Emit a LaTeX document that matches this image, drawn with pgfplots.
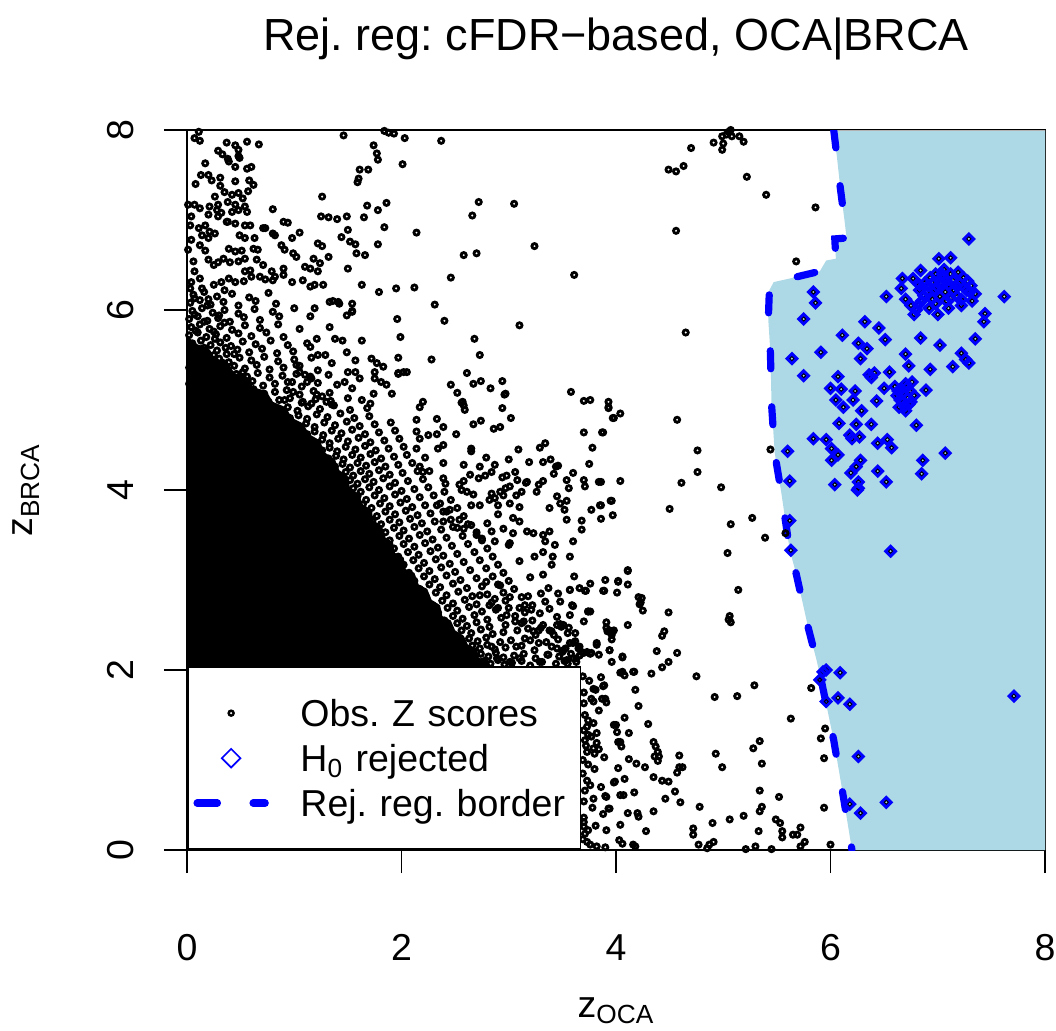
\documentclass[border=0pt]{standalone}
\usepackage{fontspec}
\setmainfont{Liberation Sans}
\usepackage{pgfplots}
\pgfplotsset{compat=1.18}
\definecolor{lb}{HTML}{ADD8E6}
\pgfdeclareplotmark{ring}{\pgfpathcircle{\pgfpointorigin}{2.05pt}\pgfpathcircle{\pgfpointorigin}{0.65pt}\pgfseteorule\pgfusepathqfill}
\pgfdeclareplotmark{lring}{\pgfpathcircle{\pgfpointorigin}{1.9pt}\pgfpathcircle{\pgfpointorigin}{0.7pt}\pgfseteorule\pgfusepathqfill}
\pgfdeclareplotmark{rdia}{\pgfpathmoveto{\pgfqpoint{0pt}{3.5pt}}\pgfpathlineto{\pgfqpoint{3.5pt}{0pt}}\pgfpathlineto{\pgfqpoint{0pt}{-3.5pt}}\pgfpathlineto{\pgfqpoint{-3.5pt}{0pt}}\pgfpathclose
\pgfpathmoveto{\pgfqpoint{0pt}{1.45pt}}\pgfpathlineto{\pgfqpoint{1.45pt}{0pt}}\pgfpathlineto{\pgfqpoint{0pt}{-1.45pt}}\pgfpathlineto{\pgfqpoint{-1.45pt}{0pt}}\pgfpathclose\pgfseteorule\pgfusepathqfill}
\pgfdeclareplotmark{ldia}{\pgfpathmoveto{\pgfqpoint{0pt}{5.25pt}}\pgfpathlineto{\pgfqpoint{5.25pt}{0pt}}\pgfpathlineto{\pgfqpoint{0pt}{-5.25pt}}\pgfpathlineto{\pgfqpoint{-5.25pt}{0pt}}\pgfpathclose
\pgfpathmoveto{\pgfqpoint{0pt}{4.05pt}}\pgfpathlineto{\pgfqpoint{4.05pt}{0pt}}\pgfpathlineto{\pgfqpoint{0pt}{-4.05pt}}\pgfpathlineto{\pgfqpoint{-4.05pt}{0pt}}\pgfpathclose\pgfseteorule\pgfusepathqfill}
\pgfplotsset{
  mylegmark/.style={legend image code/.code={\draw[##1] plot coordinates {(16.95pt,0pt)};}},
  myleglinee/.style={legend image code/.code={\draw[##1] (0pt,0pt) -- (33.9pt,0pt);}},
}
\frenchspacing
\begin{document}
\frenchspacing
\begin{tikzpicture}[font=\fontsize{18.75pt}{22.5pt}\selectfont]
\begin{axis}[
  at={(0pt,0pt)}, anchor=south west,
  x=53.625pt, y=45pt,
  xmin=0, xmax=8, ymin=0, ymax=8,
  axis line style={line width=0.9pt},
  every tick/.style={black, line width=0.9pt},
  tick align=outside,
  major tick length=11.5pt,
  xtick={0,2,4,6,8}, ytick={0,2,4,6,8},
  xtick pos=left, ytick pos=left,
  /pgf/number format/assume math mode=true,
  xticklabel style={anchor=base, yshift=-43.5pt},
  yticklabel style={xshift=-15pt, rotate=90, anchor=base},
  title={Rej. reg: cFDR−based, OCA|BRCA},
  every axis title/.style={at={(axis description cs:0.5,1)}, yshift=40pt, anchor=base, font=\fontsize{22.5pt}{27pt}\selectfont},
  xlabel={z\textsubscript{OCA}},
  ylabel={z\textsubscript{BRCA}},
  every axis x label/.style={at={(axis description cs:0.5,0)}, yshift=-83.5pt, anchor=base},
  every axis y label/.style={at={(axis description cs:0,0.5)}, xshift=-77pt, rotate=90, anchor=base},
  legend style={at={(axis description cs:0,0)}, anchor=south west, draw=black, line width=0.85pt, fill=white,
    inner xsep=2.8pt, inner ysep=11.75pt, row sep=0pt, column sep=15.8pt,
    nodes={inner sep=0pt, text height=17.75pt, text depth=4.75pt, text width=137.2pt, align=left}},
  legend cell align=left,
]
\addlegendimage{color=black, mark=lring, mylegmark}
\addlegendentry{Obs. Z scores}
\addlegendimage{color=blue, mark=ldia, mylegmark}
\addlegendentry{H\textsubscript{0} rejected}
\addlegendimage{blue, line width=3.8pt, dash pattern=on 10pt off 18pt, line cap=round, myleglinee}
\addlegendentry{Rej. reg. border}

% rejection region
\addplot[fill=lb, draw=none, forget plot] coordinates {
(6.03,8.00)(6.06,7.70)(6.09,7.37)(6.13,7.00)(6.15,6.80)(6.04,6.79)(6.05,6.57)(5.96,6.55)(5.90,6.43)(5.62,6.35)(5.47,6.31)(5.43,6.22)(5.42,5.89)(5.44,5.52)(5.45,4.96)(5.48,4.41)(5.54,3.98)(5.62,3.33)(5.68,3.07)(5.79,2.48)(5.87,2.11)(5.92,1.85)(6.03,1.22)(6.12,0.59)(6.20,0.00)(8,0)(8,8)};
\addplot[gray!60, line width=0.5pt, forget plot] coordinates {(6.03,8)(8,8)(8,0)};

% dense core of the point cloud
\addplot[fill=black, draw=none, forget plot] coordinates {
(0,0)(2.85,0)(2.85,2.02)(2.80,2.10)(2.72,2.14)(2.70,2.24)(2.62,2.28)(2.58,2.38)(2.50,2.44)(2.46,2.55)(2.38,2.60)(2.36,2.72)(2.28,2.78)(2.24,2.90)(2.16,2.95)(2.12,3.08)(2.04,3.12)(2.02,3.25)(1.94,3.30)(1.92,3.42)(1.84,3.48)(1.82,3.60)(1.74,3.66)(1.72,3.78)(1.64,3.84)(1.60,3.96)(1.52,4.02)(1.50,4.15)(1.42,4.22)(1.38,4.34)(1.28,4.42)(1.24,4.55)(1.14,4.62)(1.08,4.74)(0.98,4.80)(0.92,4.92)(0.80,4.98)(0.74,5.10)(0.62,5.14)(0.56,5.26)(0.44,5.30)(0.38,5.42)(0.26,5.46)(0.20,5.58)(0.08,5.62)(0,5.72)};

% observed z scores
\addplot[only marks, mark=ring, color=black, forget plot] coordinates {
(2.45,2.08)(2.52,2.11)(2.58,2.06)(2.63,2.09)(2.70,2.05)(2.77,2.10)(2.83,2.07)(2.90,2.11)(2.96,2.06)(3.03,2.08)(3.12,2.10)(3.20,2.05)(3.31,2.09)(3.44,2.07)(3.52,2.10)
(2.40,2.16)(2.48,2.19)(2.55,2.14)(2.61,2.17)(2.68,2.13)(2.74,2.18)(2.81,2.15)(2.88,2.19)(2.95,2.14)(3.05,2.16)(3.14,2.18)(3.25,2.13)(3.36,2.17)(3.47,2.15)(3.58,2.18)
(2.33,2.25)(2.41,2.28)(2.47,2.23)(2.54,2.26)(2.60,2.22)(2.66,2.27)(2.73,2.24)(2.80,2.28)(2.87,2.23)(2.97,2.25)(3.12,2.27)(3.24,2.22)(3.40,2.26)(3.53,2.24)
(2.28,2.33)(2.35,2.36)(2.42,2.31)(2.49,2.34)(2.56,2.30)(2.63,2.35)(2.71,2.32)(2.79,2.36)(2.92,2.31)(3.02,2.33)(3.15,2.35)(3.28,2.30)(3.46,2.34)(3.62,2.32)
(2.20,2.42)(2.27,2.45)(2.34,2.40)(2.41,2.43)(2.48,2.39)(2.56,2.44)(2.65,2.41)(2.74,2.45)(2.85,2.40)(2.95,2.42)(3.08,2.44)(3.25,2.39)(3.40,2.43)(3.55,2.41)
(2.15,2.50)(2.22,2.53)(2.29,2.48)(2.36,2.51)(2.44,2.47)(2.52,2.52)(2.61,2.49)(2.70,2.53)(2.82,2.48)(2.97,2.50)(3.12,2.52)(3.30,2.47)(3.48,2.51)
(2.10,2.58)(2.17,2.61)(2.24,2.56)(2.32,2.59)(2.40,2.55)(2.48,2.60)(2.57,2.57)(2.68,2.61)(2.80,2.56)(2.93,2.58)(3.06,2.60)(3.22,2.55)(3.45,2.59)
(2.05,2.67)(2.12,2.70)(2.19,2.65)(2.26,2.68)(2.34,2.64)(2.43,2.69)(2.52,2.66)(2.63,2.70)(2.75,2.65)(2.88,2.67)(3.00,2.69)(3.15,2.64)(3.38,2.68)
(1.99,2.75)(2.06,2.78)(2.13,2.73)(2.21,2.76)(2.29,2.72)(2.38,2.77)(2.48,2.74)(2.59,2.78)(2.70,2.73)(2.84,2.75)(2.97,2.77)(3.22,2.72)
(1.93,2.84)(2.00,2.87)(2.07,2.82)(2.15,2.85)(2.23,2.81)(2.32,2.86)(2.42,2.83)(2.53,2.87)(2.66,2.82)(2.80,2.84)(2.95,2.86)(3.12,2.81)(3.30,2.85)
(1.87,2.93)(1.94,2.96)(2.01,2.91)(2.09,2.94)(2.17,2.90)(2.26,2.95)(2.36,2.92)(2.48,2.96)(2.61,2.91)(2.75,2.93)(2.90,2.95)(3.05,2.90)
(1.82,3.02)(1.89,3.05)(1.96,3.00)(2.04,3.03)(2.12,2.99)(2.21,3.04)(2.31,3.01)(2.42,3.05)(2.55,3.00)(2.70,3.02)(2.85,3.04)(3.00,2.99)(3.20,3.03)
(1.77,3.11)(1.84,3.14)(1.91,3.09)(1.99,3.12)(2.07,3.08)(2.16,3.13)(2.26,3.10)(2.37,3.14)(2.50,3.09)(2.64,3.11)(2.79,3.13)(2.95,3.08)
(1.72,3.20)(1.79,3.23)(1.86,3.18)(1.94,3.21)(2.02,3.17)(2.11,3.22)(2.21,3.19)(2.32,3.23)(2.45,3.18)(2.58,3.20)(2.73,3.22)(2.90,3.17)(3.10,3.21)
(1.68,3.29)(1.75,3.32)(1.82,3.27)(1.89,3.30)(1.97,3.26)(2.06,3.31)(2.16,3.28)(2.27,3.32)(2.39,3.27)(2.52,3.29)(2.68,3.31)(2.85,3.26)
(1.64,3.38)(1.71,3.41)(1.78,3.36)(1.85,3.39)(1.93,3.35)(2.02,3.40)(2.12,3.37)(2.22,3.41)(2.34,3.36)(2.47,3.38)(2.62,3.40)(2.80,3.35)(3.00,3.39)
(1.60,3.47)(1.67,3.50)(1.74,3.45)(1.81,3.48)(1.89,3.44)(1.98,3.49)(2.07,3.46)(2.17,3.50)(2.29,3.45)(2.42,3.47)(2.57,3.49)(2.75,3.44)
(1.56,3.56)(1.63,3.59)(1.70,3.54)(1.77,3.57)(1.85,3.53)(1.93,3.58)(2.02,3.55)(2.12,3.59)(2.24,3.54)(2.37,3.56)(2.52,3.58)(2.70,3.53)(2.95,3.57)
(1.52,3.65)(1.59,3.68)(1.66,3.63)(1.73,3.66)(1.81,3.62)(1.89,3.67)(1.98,3.64)(2.08,3.68)(2.19,3.63)(2.31,3.65)(2.46,3.67)(2.62,3.62)
(1.48,3.74)(1.55,3.77)(1.62,3.72)(1.69,3.75)(1.77,3.71)(1.85,3.76)(1.94,3.73)(2.04,3.77)(2.15,3.72)(2.27,3.74)(2.42,3.76)(2.58,3.71)
(1.43,3.83)(1.50,3.86)(1.57,3.81)(1.64,3.84)(1.72,3.80)(1.80,3.85)(1.89,3.82)(1.99,3.86)(2.10,3.81)(2.22,3.83)(2.36,3.85)(2.52,3.80)
(1.38,3.92)(1.45,3.95)(1.52,3.90)(1.59,3.93)(1.67,3.89)(1.75,3.94)(1.84,3.91)(1.94,3.95)(2.05,3.90)(2.17,3.92)(2.30,3.94)(2.46,3.89)
(1.34,4.01)(1.41,4.04)(1.48,3.99)(1.55,4.02)(1.62,3.98)(1.70,4.03)(1.79,4.00)(1.89,4.04)(2.00,3.99)(2.12,4.01)(2.25,4.03)(2.40,3.98)
(1.31,4.10)(1.38,4.13)(1.45,4.08)(1.52,4.11)(1.59,4.07)(1.66,4.12)(1.74,4.09)(1.83,4.13)(1.94,4.08)(2.06,4.10)(2.20,4.12)
(1.27,4.19)(1.34,4.22)(1.41,4.17)(1.48,4.20)(1.55,4.16)(1.62,4.21)(1.70,4.18)(1.79,4.22)(1.89,4.17)(2.01,4.19)(2.15,4.21)
(1.24,4.28)(1.31,4.31)(1.38,4.26)(1.45,4.29)(1.52,4.25)(1.59,4.30)(1.67,4.27)(1.75,4.31)(1.85,4.26)(1.97,4.28)(2.10,4.30)
(1.18,4.37)(1.25,4.40)(1.32,4.35)(1.39,4.38)(1.46,4.34)(1.54,4.39)(1.62,4.36)(1.71,4.40)(1.81,4.35)(1.93,4.37)(2.05,4.39)
(1.12,4.46)(1.19,4.49)(1.26,4.44)(1.33,4.47)(1.40,4.43)(1.48,4.48)(1.57,4.45)(1.66,4.49)(1.76,4.44)(1.88,4.46)(2.02,4.48)
(1.05,4.55)(1.12,4.58)(1.19,4.53)(1.26,4.56)(1.33,4.52)(1.41,4.57)(1.50,4.54)(1.60,4.58)(1.71,4.53)(1.84,4.55)(1.98,4.57)
(0.98,4.64)(1.05,4.67)(1.12,4.62)(1.19,4.65)(1.27,4.61)(1.35,4.66)(1.44,4.63)(1.54,4.67)(1.66,4.62)(1.79,4.64)(1.94,4.66)
(0.90,4.73)(0.97,4.76)(1.04,4.71)(1.11,4.74)(1.19,4.70)(1.28,4.75)(1.38,4.72)(1.49,4.76)(1.61,4.71)(1.75,4.73)(1.90,4.75)
(0.82,4.82)(0.89,4.85)(0.96,4.80)(1.04,4.83)(1.12,4.79)(1.21,4.84)(1.31,4.81)(1.43,4.85)(1.56,4.80)(1.70,4.82)
(0.70,4.91)(0.78,4.94)(0.86,4.89)(0.94,4.92)(1.03,4.88)(1.13,4.93)(1.24,4.90)(1.37,4.94)(1.52,4.89)(1.68,4.91)
(0.05,5.00)(0.13,5.03)(0.22,4.98)(0.31,5.01)(0.40,4.97)(0.49,5.02)(0.58,4.99)(0.67,5.03)(0.76,4.98)(0.86,5.00)(0.96,5.02)(1.07,4.97)(1.20,5.01)(1.34,4.99)(1.50,5.02)
(0.03,5.09)(0.11,5.12)(0.19,5.07)(0.27,5.10)(0.35,5.06)(0.44,5.11)(0.53,5.08)(0.62,5.12)(0.72,5.07)(0.82,5.09)(0.93,5.11)(1.05,5.06)(1.18,5.10)(1.33,5.08)
(0.02,5.18)(0.09,5.21)(0.17,5.16)(0.25,5.19)(0.33,5.15)(0.42,5.20)(0.51,5.17)(0.61,5.21)(0.71,5.16)(0.82,5.18)(0.94,5.20)(1.07,5.15)(1.22,5.19)(1.40,5.17)
(0.04,5.27)(0.12,5.30)(0.20,5.25)(0.28,5.28)(0.37,5.24)(0.46,5.29)(0.56,5.26)(0.66,5.30)(0.77,5.25)(0.89,5.27)(1.02,5.29)(1.16,5.24)(1.32,5.28)
(0.02,5.36)(0.10,5.39)(0.18,5.34)(0.26,5.37)(0.35,5.33)(0.44,5.38)(0.54,5.35)(0.65,5.39)(0.77,5.34)(0.90,5.36)(1.05,5.38)(1.22,5.33)
(0.05,5.45)(0.13,5.48)(0.21,5.43)(0.30,5.46)(0.39,5.42)(0.49,5.47)(0.60,5.44)(0.72,5.48)(0.85,5.43)(1.00,5.45)(1.16,5.47)
(0.03,5.54)(0.11,5.57)(0.19,5.52)(0.28,5.55)(0.37,5.51)(0.47,5.56)(0.58,5.53)(0.70,5.57)(0.84,5.52)(0.99,5.54)
(0.05,5.63)(0.13,5.66)(0.22,5.61)(0.31,5.64)(0.41,5.60)(0.52,5.65)(0.64,5.62)(0.78,5.66)(0.94,5.61)(1.12,5.63)
(0.02,5.72)(0.10,5.75)(0.18,5.70)(0.27,5.73)(0.37,5.69)(0.48,5.74)(0.60,5.71)(0.74,5.75)(0.90,5.70)
(0.04,5.81)(0.12,5.84)(0.21,5.79)(0.31,5.82)(0.42,5.78)(0.54,5.83)(0.68,5.80)(0.85,5.84)(1.05,5.79)
(0.02,5.90)(0.10,5.93)(0.19,5.88)(0.29,5.91)(0.40,5.87)(0.53,5.92)(0.68,5.89)(0.86,5.93)
(0.05,5.99)(0.14,6.02)(0.24,5.97)(0.35,6.00)(0.48,5.96)(0.63,6.01)(0.80,5.98)(1.00,6.02)
(0.03,6.08)(0.12,6.11)(0.22,6.06)(0.34,6.09)(0.48,6.05)(0.64,6.10)(0.83,6.07)
(0.06,6.17)(0.16,6.20)(0.28,6.15)(0.42,6.18)(0.58,6.14)(0.76,6.19)
(0.07,5.05)(0.16,5.14)(0.24,5.04)(0.36,5.14)(0.45,5.06)(0.08,5.23)(0.21,5.22)(0.31,5.32)(0.40,5.24)(0.52,5.31)(0.06,5.41)(0.16,5.40)(0.25,5.50)(0.34,5.41)(0.44,5.51)(0.07,5.59)(0.16,5.58)(0.26,5.68)(0.36,5.58)(0.08,5.77)(0.16,5.87)(0.25,5.76)(0.35,5.86)(0.07,5.95)(0.19,6.05)(0.30,5.94)(0.07,6.13)(0.20,6.12)(0.35,6.22)(0.03,6.24)
(0.11,7.98)(0.07,7.91)(0.12,7.88)(0.37,7.86)(0.45,7.83)(0.48,7.78)(0.56,7.87)(0.67,7.84)(0.29,7.77)(0.33,7.73)(0.38,7.68)(0.48,7.71)(0.49,7.69)(0.17,7.63)(0.39,7.65)(0.45,7.59)(0.56,7.57)(0.60,7.59)(0.13,7.50)(0.20,7.50)(0.23,7.44)(0.31,7.47)(0.45,7.43)(0.58,7.44)(0.62,7.39)(0.08,7.40)(0.31,7.38)(0.35,7.31)(0.42,7.28)(0.48,7.30)(0.57,7.32)(0.26,7.26)(0.29,7.17)(0.38,7.20)(0.45,7.17)(0.52,7.24)(0.54,7.15)(0.01,7.17)(0.07,7.17)(0.12,7.13)(0.21,7.15)(0.28,7.11)(0.32,7.08)(0.42,7.09)(0.48,7.11)(0.04,7.04)(0.20,7.06)(0.29,7.04)(0.38,6.98)(0.56,7.09)(0.80,7.12)(0.03,6.94)(0.11,6.91)(0.17,6.94)(0.21,6.87)(0.26,6.85)(0.37,6.98)(0.45,6.96)(0.54,6.94)(0.59,6.94)(0.73,6.91)(0.80,6.85)(0.90,6.98)(0.94,6.97)(0.14,6.83)(0.20,6.80)(0.04,6.78)(0.49,6.83)(0.54,6.80)(0.63,6.80)(0.71,6.91)(0.82,6.83)(0.98,6.80)(1.05,6.86)(0.01,6.67)(0.12,6.72)(0.17,6.66)(0.39,6.68)(0.45,6.65)(0.51,6.66)(0.62,6.68)(0.66,6.67)(0.88,6.72)(0.91,6.67)(1.22,6.74)(1.26,6.71)(0.99,6.63)(0.06,6.54)(0.20,6.56)(0.25,6.50)(0.29,6.53)(0.34,6.57)(0.40,6.53)(0.48,6.54)(0.54,6.57)(0.65,6.56)(0.71,6.50)(1.02,6.59)(1.18,6.57)(1.24,6.52)(1.32,6.59)(0.07,6.43)(0.12,6.35)(0.54,6.43)(0.59,6.44)(0.60,6.37)(0.79,6.43)(0.82,6.37)(0.90,6.46)(1.10,6.48)(1.15,6.46)(1.22,6.43)(1.50,6.46)(1.63,6.28)(1.79,6.20)(0.04,6.31)(0.14,6.24)(0.25,6.28)(0.32,6.31)(0.39,6.35)(0.45,6.31)(0.53,6.32)(0.68,6.37)(0.73,6.34)(0.80,6.33)(0.90,6.39)(0.98,6.31)(1.08,6.33)(1.15,6.26)(1.19,6.28)(1.27,6.28)(1.33,6.09)(1.41,6.09)(1.54,6.07)(1.54,5.98)(1.49,5.94)
(1.46,7.94)(1.74,7.83)(1.77,7.74)(1.78,7.67)(1.84,7.99)(1.88,7.97)(1.93,7.96)(2.03,7.91)(1.61,7.56)(1.60,7.46)(1.59,7.42)(1.69,7.56)(2.01,7.62)(1.26,7.26)(1.68,7.16)(1.78,7.11)(1.86,7.19)(1.65,7.03)(1.25,7.04)(1.32,7.03)(1.40,7.01)(1.49,7.04)(1.84,6.92)(1.50,6.89)(1.44,6.81)(1.52,6.76)(1.57,6.73)(1.58,6.63)(1.66,6.61)(1.78,6.73)(1.95,6.24)(1.96,5.90)(1.99,5.70)(1.97,5.47)(2.02,5.31)(1.97,5.29)(1.36,6.10)(1.42,6.07)(1.15,5.93)(1.19,6.02)(1.54,5.99)(1.33,5.81)(1.21,5.68)(1.38,5.68)(1.45,5.66)(1.63,5.66)(1.15,5.59)(1.22,5.50)(1.29,5.50)(1.35,5.41)(1.49,5.53)(1.57,5.44)(1.50,5.31)(1.57,5.31)(1.47,5.20)(1.54,5.13)(1.61,5.24)(1.72,5.46)(1.77,5.41)(1.83,5.37)(1.75,5.31)(1.75,5.24)(1.81,5.20)(1.86,5.17)(1.74,5.07)(1.91,5.07)(1.97,5.30)(2.05,5.31)(1.02,5.39)(1.05,5.31)(1.10,5.28)(1.15,5.26)(0.98,5.20)(1.12,5.20)(1.21,5.06)(1.26,5.04)(0.99,5.09)(0.91,5.00)(1.08,4.98)(1.16,4.96)(1.30,4.98)(1.35,4.95)(1.63,5.00)(1.71,4.96)
(2.37,7.88)(2.72,7.20)(3.05,7.18)(2.66,7.05)(2.14,6.86)(3.24,6.71)(2.58,6.61)(2.70,6.63)(2.46,6.36)(3.61,6.39)(2.12,6.25)(2.31,6.06)(2.40,5.88)(3.10,5.83)(2.68,5.68)(2.73,5.50)(2.28,5.45)(2.61,5.30)(2.46,5.17)(2.67,5.18)(2.74,5.21)(2.83,5.13)(2.94,5.21)(2.97,5.07)(2.52,5.08)(3.58,5.09)(3.70,4.99)(3.76,5.00)(3.93,4.98)(2.20,4.98)(2.57,4.98)
(5.05,7.98)(5.03,7.95)(5.07,8.00)(4.99,7.93)(5.08,7.93)(5.15,7.93)(5.19,7.87)(5.00,7.85)(4.99,7.78)(4.91,7.86)(4.70,7.80)(4.49,7.56)(4.56,7.54)(4.63,7.60)(5.22,7.48)(5.40,7.28)(5.86,7.14)(4.56,6.88)(5.68,6.54)(4.65,5.75)(3.93,4.92)(3.97,4.80)(4.04,4.85)(3.88,4.64)(4.57,4.78)(4.76,4.44)(5.44,4.45)(4.76,4.20)(4.04,4.10)(4.61,4.08)(4.98,4.03)(3.86,4.09)(3.95,3.88)(3.86,3.83)(3.97,3.72)(4.50,3.79)(5.27,3.69)
(3.86,3.68)(5.07,3.62)(5.39,3.47)(5.58,3.52)(5.04,3.30)(4.11,3.10)(3.90,3.00)(4.02,2.99)(4.11,2.95)(3.89,2.88)(4.01,2.86)(5.14,2.89)(4.24,2.80)(4.22,2.73)(4.25,2.66)(4.49,2.64)(5.06,2.60)(5.07,2.53)(5.05,2.56)(3.91,2.53)(4.11,2.50)(3.92,2.43)(3.97,2.43)(4.45,2.43)(4.43,2.38)(3.96,2.34)(3.94,2.22)(4.38,2.21)(4.57,2.19)(4.06,2.14)(4.49,2.09)(4.43,2.03)(3.96,2.09)(4.04,1.97)(4.08,1.94)(4.17,1.98)(4.33,1.96)(4.75,1.93)(5.82,1.80)(5.29,1.83)(4.92,1.70)(5.13,1.71)(3.89,1.83)(4.18,1.78)(4.21,1.60)(3.90,1.68)(3.91,1.64)(4.08,1.47)(4.30,1.40)(5.63,1.46)(4.00,1.39)(4.01,1.31)(4.12,1.30)(5.91,1.24)(5.95,1.35)(5.94,1.02)(4.02,1.20)(4.04,1.20)(4.05,1.15)(4.35,1.20)(4.37,1.15)(4.39,1.09)(4.36,1.04)(4.40,1.04)(4.39,0.99)(4.59,1.05)(4.93,1.07)(4.99,0.92)(5.28,1.13)(5.34,1.21)(5.36,0.96)(4.12,1.01)(4.19,0.96)(4.27,0.92)(4.02,0.91)(3.89,1.03)(4.59,0.92)(4.62,0.92)(4.57,0.86)(4.35,0.81)(4.43,0.77)(4.49,0.76)(4.08,0.79)(3.98,0.75)(4.55,0.65)(4.17,0.64)(3.91,0.59)(4.04,0.61)(4.07,0.61)(4.46,0.57)(4.60,0.53)(4.78,0.48)(5.34,0.66)(5.52,0.59)(5.36,0.48)(5.34,0.43)(3.94,0.46)(4.11,0.41)(4.20,0.41)(4.21,0.37)(4.35,0.43)(3.88,0.40)(4.04,0.28)(3.91,0.22)(4.28,0.21)(4.72,0.24)(4.72,0.17)(4.90,0.30)(5.06,0.34)(5.19,0.38)(5.33,0.21)(5.49,0.34)(5.53,0.30)(5.55,0.21)(5.55,0.14)(5.65,0.17)(5.69,0.17)(5.72,0.25)(5.76,0.09)(5.72,0.04)(6.00,0.06)(5.94,0.47)(4.03,0.11)(4.06,0.07)(4.16,0.06)(4.18,0.04)(3.90,0.03)(4.77,0.06)(4.85,0.02)(4.87,0.06)(4.91,0.09)(5.21,0.01)(5.30,0.04)(5.45,0.01)
(3.70,1.63)(3.77,1.68)(3.79,1.65)(3.87,1.68)(3.71,1.50)(3.74,1.44)(3.79,1.41)(3.73,1.37)(3.82,1.30)(3.74,1.28)(3.71,1.22)(3.82,1.19)(3.79,1.13)(3.73,1.09)(3.80,1.07)(3.69,1.00)(3.73,0.77)(3.70,0.54)(3.79,0.57)(3.70,0.31)(3.70,0.26)(3.71,0.18)(3.73,0.09)(3.76,0.06)(3.82,0.04)(3.93,0.46)(3.90,0.60)(3.98,1.39)(3.99,0.76)(4.16,1.98)(3.88,1.82)(3.79,1.79)(3.81,1.78)
(3.69,0.12)(3.74,0.22)(3.70,0.36)(3.78,0.47)(3.71,0.66)(3.76,0.72)(3.69,0.85)(3.80,0.90)(3.72,1.16)(3.77,1.26)(3.70,1.33)(3.84,1.55)(3.70,1.75)(3.75,1.88)(3.86,1.92)(3.81,0.27)(3.84,1.12)(3.86,0.70)(3.69,1.93)(3.74,0.95)
(3.57,2.89)(3.71,2.88)(3.88,2.88)(4.02,2.98)(3.60,2.71)(3.74,2.65)(3.76,2.65)(3.57,2.61)(3.70,2.54)(3.48,2.76)(3.91,2.47)(3.98,2.44)(3.96,2.41)(4.21,2.81)(4.23,2.75)(3.62,2.41)(3.49,2.48)(3.56,2.47)(3.51,2.22)(3.60,2.30)(3.66,2.26)(3.68,2.20)(3.76,2.18)(3.84,2.17)(3.66,2.16)(3.73,2.20)(3.54,2.11)(3.60,2.13)(3.63,2.09)(3.82,2.30)(3.94,2.22)
(2.17,4.92)(2.56,4.97)(2.59,4.89)(2.58,4.94)(2.94,4.91)(3.02,4.80)(2.96,5.06)(3.93,4.91)(3.98,4.80)
(2.14,4.78)(2.33,4.79)(2.39,4.70)(2.67,4.73)(2.74,4.77)(2.86,4.68)(2.92,4.70)(2.51,4.62)(2.14,4.65)(2.17,4.57)(2.25,4.61)(2.33,4.62)(3.70,4.64)(3.87,4.64)(3.78,4.47)
(2.14,4.46)(2.34,4.46)(2.39,4.50)(2.65,4.46)(2.65,4.43)(3.09,4.45)(3.29,4.47)(3.34,4.52)(2.22,4.36)(2.39,4.30)(2.58,4.28)(2.73,4.26)(2.79,4.36)(2.87,4.28)(3.00,4.34)(3.19,4.31)(3.32,4.31)(3.39,4.34)(3.44,4.26)(3.46,4.27)(3.75,4.29)(3.60,4.19)
(2.17,4.26)(2.20,4.20)(2.26,4.21)(2.39,4.13)(2.41,4.07)(2.54,4.06)(2.58,4.10)(2.64,4.17)(2.72,4.13)(2.78,4.16)(2.84,4.20)(2.94,4.14)(2.98,4.16)(3.06,4.20)(3.08,4.11)(3.17,4.09)(3.28,4.06)(3.32,4.10)(3.42,4.18)(3.54,4.11)(3.56,4.02)(3.70,4.11)(3.71,4.04)(3.84,4.09)
(2.56,4.00)(2.61,3.98)(2.67,3.95)(2.84,3.96)(2.87,3.91)(2.92,3.98)(2.97,4.02)(3.01,4.04)(3.07,3.94)(3.12,3.98)(3.16,4.08)(3.26,3.98)(3.45,3.93)(3.54,3.88)(3.48,3.85)(3.38,3.80)(3.52,3.78)(3.68,3.66)(3.68,3.56)(3.77,3.78)(3.85,3.83)(3.96,3.88)(3.54,3.67)
(2.33,3.83)(2.39,3.76)(2.45,3.78)(2.65,3.83)(2.73,3.83)(2.82,3.89)(2.90,3.83)(3.01,3.85)(3.10,3.81)(2.95,3.94)(2.90,3.73)(3.04,3.69)(3.10,3.65)
(2.39,3.65)(2.48,3.59)(2.54,3.67)(2.58,3.57)(2.65,3.61)(2.70,3.50)(2.75,3.46)(2.80,3.63)(2.84,3.54)(2.87,3.43)(3.01,3.41)(3.04,3.52)(3.17,3.54)(3.23,3.52)(3.32,3.50)(3.38,3.54)(3.34,3.43)(3.43,3.39)(3.24,3.26)(3.32,3.31)(3.41,3.26)(3.60,3.43)(3.57,3.26)(3.40,3.17)
(3.32,3.06)(3.61,3.04)(4.11,3.11)(3.37,2.91)(3.46,2.85)(3.57,2.89)(3.66,2.91)(3.72,2.88)(3.76,2.96)(3.18,2.82)(3.15,2.72)(3.21,2.67)(3.29,2.63)(3.34,2.76)(3.59,2.72)(3.74,2.65)(3.94,2.44)(3.96,2.39)(4.06,2.15)(4.06,1.98)
(2.92,2.94)(2.79,2.98)(2.87,2.79)(3.01,2.81)(3.10,2.69)(2.90,2.69)(2.82,2.72)(2.73,2.83)(2.98,2.61)(3.06,2.54)(3.14,2.54)(3.18,2.46)(3.23,2.43)(3.28,2.44)(3.32,2.50)(3.38,2.44)(3.45,2.50)(3.51,2.50)(3.42,2.39)(3.35,2.31)(3.45,2.24)(3.50,2.20)(3.57,2.30)(3.65,2.24)(3.70,2.19)(3.77,2.19)(3.82,2.28)(3.63,2.13)(3.55,2.07)(3.20,2.33)(3.07,2.26)(3.10,2.13)(3.29,2.09)(3.37,2.17)(3.01,2.09)(2.89,2.13)(2.84,2.26)
};

% rejected points: black circles then blue diamonds
\pgfplotstableread{
x y
7.29 6.79
7.01 6.57
7.12 6.58
6.84 6.44
6.67 6.35
6.77 6.35
6.83 6.28
6.66 6.24
6.52 6.15
7.62 6.15
5.84 6.20
5.86 6.08
5.75 5.90
7.44 5.96
7.43 5.87
6.90 6.20
6.95 6.30
7.00 6.25
7.05 6.35
7.10 6.28
7.15 6.22
7.20 6.30
7.25 6.25
7.30 6.20
7.02 6.15
7.08 6.10
6.85 6.10
6.80 6.00
6.75 6.05
6.92 6.02
7.12 6.40
7.18 6.15
7.28 6.32
7.35 6.18
6.98 6.40
7.06 6.45
6.88 6.30
6.70 6.12
6.78 5.95
7.22 6.05
7.00 5.95
6.95 6.12
7.10 6.02
7.32 6.10
6.83 6.22
6.93 6.36
7.03 6.30
7.14 6.33
7.24 6.36
7.17 6.27
6.97 6.23
7.07 6.20
7.27 6.22
6.87 6.16
7.12 6.13
7.22 6.12
6.98 6.07
6.82 6.06
7.04 6.40
7.19 6.42
7.31 6.27
6.91 6.27
7.08 6.32
6.32 5.87
6.45 5.80
6.11 5.72
6.51 5.67
6.84 5.69
7.02 5.61
7.35 5.68
6.26 5.63
6.34 5.57
5.91 5.53
5.64 5.46
6.28 5.46
6.70 5.51
6.73 5.38
6.93 5.34
7.14 5.37
7.22 5.52
7.29 5.41
7.26 5.45
5.75 5.27
6.07 5.26
6.36 5.28
6.41 5.30
6.55 5.31
6.38 5.25
6.00 5.13
6.10 5.12
6.23 5.10
6.50 5.13
6.62 5.05
6.66 5.12
6.70 5.18
6.74 5.10
6.68 4.98
6.72 5.02
6.76 5.20
6.64 4.92
6.70 4.88
6.78 5.05
6.60 5.15
6.73 4.95
6.67 5.08
6.71 5.14
6.65 5.00
6.75 4.98
6.69 4.93
6.63 5.10
6.89 5.11
6.05 5.00
6.12 4.92
6.21 5.00
6.43 4.99
6.29 4.88
6.08 4.74
6.24 4.73
6.38 4.73
6.80 4.72
5.84 4.57
5.96 4.56
6.01 4.46
6.07 4.39
6.01 4.33
6.18 4.61
6.20 4.57
6.27 4.59
6.44 4.52
6.53 4.56
6.57 4.47
5.60 4.43
6.86 4.33
7.07 4.41
6.85 4.18
6.28 4.33
6.24 4.26
6.19 4.19
6.44 4.21
5.62 4.10
6.04 4.06
6.26 4.09
6.26 4.02
6.25 4.00
6.52 4.09
5.62 3.66
5.63 3.33
6.56 3.32
5.93 1.98
5.96 2.00
6.09 1.97
5.90 1.89
5.96 1.65
6.07 1.69
6.18 1.62
7.71 1.71
6.26 1.04
6.18 0.51
6.28 0.41
6.52 0.53
}\rejtable
\addplot[only marks, mark=ring, color=black, forget plot] table[x=x, y=y] {\rejtable};
\addplot[only marks, mark=rdia, color=blue, forget plot] table[x=x, y=y] {\rejtable};

% rejection region border
\addplot[blue, line width=3.6pt, dash pattern=on 9pt off 19pt, line cap=round, forget plot] coordinates {
(6.03,8.00)(6.06,7.70)(6.09,7.37)(6.13,7.00)(6.15,6.80)(6.04,6.79)(6.05,6.57)(5.96,6.55)(5.90,6.43)(5.62,6.35)(5.47,6.31)(5.43,6.22)(5.42,5.89)(5.44,5.52)(5.45,4.96)(5.48,4.41)(5.54,3.98)(5.62,3.33)(5.68,3.07)(5.79,2.48)(5.87,2.11)(5.92,1.85)(6.03,1.22)(6.12,0.59)(6.20,0.00)};
\end{axis}
\pgfresetboundingbox
\path[use as bounding box] (-93.5pt,-90pt) rectangle (434.5pt,425pt);
\end{tikzpicture}
\end{document}
